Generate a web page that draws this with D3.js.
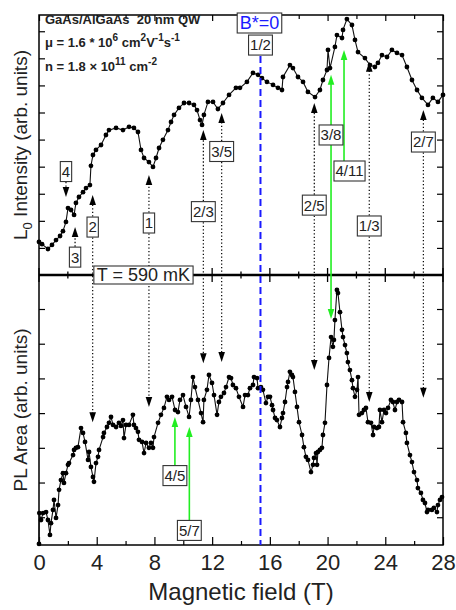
<!DOCTYPE html>
<html>
<head>
<meta charset="utf-8">
<script src="https://cdn.jsdelivr.net/npm/d3@7"></script>
<style>
body{margin:0;background:#fff;}
svg{display:block;font-family:"Liberation Sans",Arial,sans-serif;}
</style>
</head>
<body>
<div id="chart"></div>
<script>
// top panel: L0 intensity vs field
var fieldTop = [0,0.21,0.62,0.90,1.18,1.46,1.66,1.87,2.01,2.22,2.43,2.56,2.77,3.05,3.26,3.53,3.60,3.74,3.95,4.30,
  4.64,4.85,5.34,5.82,6.24,6.58,6.86,7.07,7.28,7.62,7.90,8.11,8.32,8.59,8.94,9.15,9.36,9.70,10.05,10.40,
  10.74,10.95,11.16,11.30,11.43,11.71,12.06,12.40,12.75,13.17,13.65,13.93,14.41,14.83,15.18,15.45,15.80,16.22,16.56,16.84,
  16.91,17.39,17.60,17.95,18.30,18.64,19.13,19.47,19.68,19.96,20.03,20.17,20.51,20.65,21.00,21.07,21.34,21.69,21.90,22.11,
  22.59,22.94,23.28,23.49,23.77,24.12,24.46,24.81,25.16,25.50,25.85,26.20,26.54,26.96,27.30,27.65,28.00];
var lumTop = [1.22,1.14,0.96,1.11,1.29,1.44,1.62,1.96,2.47,2.40,2.22,2.66,2.88,3.06,3.21,3.32,4.03,4.43,4.62,4.80,
  5.17,5.35,5.43,5.35,5.47,5.43,5.28,4.62,4.32,4.17,3.99,4.32,4.69,4.99,5.35,5.65,5.91,6.17,6.35,6.35,
  6.28,6.09,5.72,5.54,5.91,6.39,6.39,6.13,6.35,6.65,6.91,6.91,7.13,7.46,7.39,7.27,7.13,7.02,6.91,6.83,
  7.31,7.75,7.64,7.31,7.13,6.76,6.57,6.83,7.20,7.57,8.31,7.64,8.42,8.86,8.75,9.05,9.45,9.23,8.68,8.23,
  8.01,7.75,7.68,7.83,8.12,8.05,8.31,8.20,8.12,7.68,7.20,6.83,6.54,6.28,6.54,6.39,6.65];

// bottom panel: PL area vs field
var fieldBot = [0,0.02,0.14,0.28,0.49,0.62,0.76,0.83,0.97,1.04,1.18,1.32,1.39,1.52,1.66,1.73,1.87,2.01,2.08,2.36,
  2.43,2.56,2.70,2.91,3.05,3.19,3.40,3.47,3.60,3.74,3.81,3.95,4.09,4.16,4.44,4.50,4.71,4.85,4.99,5.13,
  5.34,5.54,5.68,5.82,5.89,6.03,6.24,6.51,6.58,6.72,6.86,6.93,7.14,7.28,7.42,7.62,7.76,7.90,7.97,8.25,
  8.45,8.66,8.87,9.01,9.22,9.43,9.63,9.77,9.98,10.19,10.40,10.53,10.67,10.81,11.02,11.23,11.37,11.43,11.64,11.78,
  11.99,12.13,12.34,12.47,12.61,12.82,12.96,13.17,13.31,13.44,13.65,13.86,14.14,14.28,14.48,14.62,14.83,14.90,15.11,15.18,
  15.38,15.52,15.73,15.87,16.01,16.15,16.22,16.36,16.49,16.70,16.84,16.91,17.05,17.19,17.26,17.39,17.53,17.60,17.74,17.88,
  18.02,18.23,18.36,18.50,18.64,18.85,18.99,19.06,19.20,19.27,19.33,19.47,19.61,19.68,19.82,19.96,20.10,20.24,20.37,20.44,
  20.51,20.65,20.72,20.86,21.00,21.07,21.21,21.34,21.41,21.55,21.69,21.76,21.90,22.04,22.11,22.18,22.38,22.52,22.66,22.80,
  23.01,23.15,23.22,23.42,23.56,23.63,23.77,23.91,24.05,24.19,24.39,24.53,24.67,24.81,24.95,25.16,25.23,25.43,25.50,25.71,
  25.85,25.99,26.20,26.26,26.47,26.61,26.75,26.89,26.96,27.23,27.37,27.58,27.65,27.79,27.93];
var plBot = [0.23,1.12,0.92,1.12,1.15,0.92,0.49,0.83,1.21,1.50,0.98,1.35,1.79,2.07,2.27,1.99,2.27,2.51,2.56,2.79,
  2.94,3.00,3.02,3.57,3.43,3.17,2.65,2.88,2.45,2.16,2.02,2.56,2.74,2.94,3.31,3.43,3.60,3.72,3.89,3.66,
  3.60,3.72,3.63,3.80,3.28,3.66,3.66,3.95,3.66,3.57,3.46,3.23,3.17,2.85,3.14,3.00,3.14,3.00,3.31,3.72,
  3.95,4.15,4.47,4.38,4.47,4.09,4.03,4.38,4.52,4.18,3.89,4.38,5.04,4.75,4.38,4.00,3.74,4.38,4.67,5.10,
  4.87,4.52,3.95,4.32,4.47,4.58,4.75,5.04,5.01,4.81,4.72,4.47,4.18,4.52,4.52,4.72,4.81,5.04,5.01,4.72,
  4.75,4.67,4.29,4.47,4.47,4.23,4.09,3.86,3.80,3.60,3.86,4.00,4.32,4.75,4.90,5.19,5.10,5.04,4.61,4.18,
  3.74,3.37,3.02,2.74,2.65,2.30,2.51,2.71,2.85,2.51,2.88,2.94,3.00,3.37,3.72,4.81,5.59,6.19,5.91,6.11,
  6.68,7.55,7.46,6.91,6.40,6.19,5.96,5.73,5.47,5.24,4.95,4.72,4.47,4.67,5.04,3.95,4.00,4.09,4.15,3.74,
  3.72,3.37,3.60,3.57,3.60,4.09,3.74,4.09,4.00,4.15,4.38,4.32,4.09,4.32,4.38,4.32,3.74,3.43,3.14,2.79,
  2.59,2.30,2.07,1.84,1.70,1.50,1.41,1.15,1.21,1.21,1.27,1.15,1.35,1.50,1.58];

var xTicks = [0,4,8,12,16,20,24,28];
var xMinor = [2,6,10,14,18,22,26];
var topTicks = [1,2,3,4,5,6,7,8,9];
var botTicks = [1,2,3,4,5,6,7];
var bStar = 15.35;

// filling factor marks: field, panel + value of the box, arrow tips [panel, value]
var marks = [
  {t:"4",   b:1.87,  p:"top", v:3.82, tips:[["top",2.88]]},
  {t:"3",   b:2.50,  p:"top", v:0.66, tips:[["top",1.77]]},
  {t:"2",   b:3.72,  p:"top", v:1.77, tips:[["top",2.95],["bot",3.74]]},
  {t:"1",   b:7.62,  p:"top", v:1.92, tips:[["top",3.69],["bot",4.18]]},
  {t:"2/3", b:11.39, p:"top", v:2.34, tips:[["top",5.35],["bot",5.44]]},
  {t:"3/5", b:12.66, p:"top", v:4.56, tips:[["top",5.98],["bot",5.47]]},
  {t:"2/5", b:19.08, p:"top", v:2.58, tips:[["top",6.35],["bot",5.24]]},
  {t:"1/3", b:22.89, p:"top", v:1.81, tips:[["top",7.87],["bot",4.32]]},
  {t:"2/7", b:26.64, p:"top", v:4.91, tips:[["top",6.09],["bot",4.44]]},
  {t:"3/8", b:20.24, p:"top", v:5.17, tips:[["top",7.39],["bot",6.71]], green:true},
  {t:"4/11",b:21.14, p:"top", v:3.84, tips:[["top",8.31]], green:true, dx:5.5},
  {t:"4/5", b:9.42,  p:"bot", v:2.20, tips:[["bot",3.89]], green:true},
  {t:"5/7", b:10.42, p:"bot", v:0.62, tips:[["bot",3.60]], green:true}
];

var svg = d3.select("#chart").append("svg").attr("width",456).attr("height",610);

var x = d3.scaleLinear().domain([0,28]).range([39,443]);
var yTop = d3.scaleLinear().domain([0,9.6]).range([275,15]);
var yBot = d3.scaleLinear().domain([0.2,7.98]).range([545,275]);
var yOf = {top:yTop, bot:yBot};

// axes
function axisStyle(g){
  g.select(".domain").remove();
  g.selectAll("line").attr("stroke","#000").attr("stroke-width",1.2);
}
svg.append("g").attr("transform","translate(0,545)")
   .call(d3.axisBottom(x).tickValues(xTicks).tickSizeInner(-8).tickSizeOuter(0).tickPadding(9))
   .call(axisStyle)
   .selectAll("text").attr("font-size",22).attr("fill","#222").attr("font-family","Liberation Sans, Arial, sans-serif");
svg.append("g").attr("transform","translate(0,545)")
   .call(d3.axisBottom(x).tickValues(xMinor).tickSize(-4).tickFormat(""))
   .call(axisStyle);
svg.append("g").attr("transform","translate(0,15)")
   .call(d3.axisTop(x).tickValues(xTicks).tickSize(-6).tickFormat(""))
   .call(axisStyle);
svg.append("g").attr("transform","translate(0,15)")
   .call(d3.axisTop(x).tickValues(xMinor).tickSize(-4).tickFormat(""))
   .call(axisStyle);
svg.append("g").attr("transform","translate(39,0)")
   .call(d3.axisLeft(yTop).tickValues(topTicks).tickSize(-6).tickFormat(""))
   .call(axisStyle);
svg.append("g").attr("transform","translate(443,0)")
   .call(d3.axisRight(yTop).tickValues(topTicks).tickSize(-6).tickFormat(""))
   .call(axisStyle);
svg.append("g").attr("transform","translate(39,0)")
   .call(d3.axisLeft(yBot).tickValues(botTicks).tickSize(-6).tickFormat(""))
   .call(axisStyle);
svg.append("g").attr("transform","translate(443,0)")
   .call(d3.axisRight(yBot).tickValues(botTicks).tickSize(-6).tickFormat(""))
   .call(axisStyle);

// frame
svg.append("rect").attr("x",39).attr("y",15).attr("width",404).attr("height",530)
   .attr("fill","none").attr("stroke","#000").attr("stroke-width",1.5);

// middle axis with ticks on both sides
svg.append("line").attr("x1",39).attr("x2",443).attr("y1",275).attr("y2",275)
   .attr("stroke","#000").attr("stroke-width",2.5);
svg.append("g").selectAll("line").data(xTicks.concat(xMinor)).enter().append("line")
   .attr("x1",function(d){ return x(d); }).attr("x2",function(d){ return x(d); })
   .attr("y1",function(d){ return d%4==0 ? 268 : 271.5; })
   .attr("y2",function(d){ return d%4==0 ? 282 : 278.5; })
   .attr("stroke","#000").attr("stroke-width",1.3);

// data curves
function drawCurve(xs, ys, yScale){
  var pts = d3.zip(xs, ys);
  var line = d3.line().x(function(d){ return x(d[0]); }).y(function(d){ return yScale(d[1]); });
  svg.append("path").datum(pts).attr("d",line)
     .attr("fill","none").attr("stroke","#111").attr("stroke-width",1.1);
  svg.append("g").selectAll("circle").data(pts).enter().append("circle")
     .attr("cx",function(d){ return x(d[0]); })
     .attr("cy",function(d){ return yScale(d[1]); })
     .attr("r",2.4).attr("fill","#000");
}
drawCurve(fieldTop, lumTop, yTop);
drawCurve(fieldBot, plBot, yBot);

// B*=0 dashed line
svg.append("line").attr("x1",x(bStar)).attr("x2",x(bStar)).attr("y1",yTop(8.49)).attr("y2",545)
   .attr("stroke","#1a1aff").attr("stroke-width",2).attr("stroke-dasharray","7,4");

// arrows
function arrow(px, y0, y1, color, dotted){
  var dir = y1 > y0 ? 1 : -1;
  svg.append("line").attr("x1",px).attr("x2",px).attr("y1",y0).attr("y2",y1 - dir*8)
     .attr("stroke",color).attr("stroke-width",dotted ? 1.2 : 1.6)
     .attr("stroke-dasharray",dotted ? "1.3,2.2" : null);
  svg.append("path")
     .attr("d","M"+(px-3.3)+","+(y1-dir*10)+"L"+(px+3.3)+","+(y1-dir*10)+"L"+px+","+y1+"Z")
     .attr("fill",color);
}
marks.forEach(function(m){
  var px = x(m.b), by = yOf[m.p](m.v);
  m.tips.forEach(function(t){
    arrow(px, by, yOf[t[0]](t[1]), m.green ? "#22ee22" : "#000", !m.green);
  });
});

// boxed labels
function box(cx, cy, label, size, color, pad, h){
  var g = svg.append("g");
  var r = g.append("rect");
  var tx = g.append("text").attr("x",cx).attr("y",cy + size*0.36)
     .attr("text-anchor","middle").attr("font-size",size).attr("fill",color).text(label);
  var w = tx.node().getComputedTextLength() + 2*pad;
  r.attr("x",cx - w/2).attr("y",cy - h/2).attr("width",w).attr("height",h)
   .attr("fill","#fff").attr("stroke","#333").attr("stroke-width",1.1);
}
marks.forEach(function(m){
  box(x(m.b) + (m.dx || 0), yOf[m.p](m.v), m.t, 15, "#222", 1.5, 20);
});
box(x(bStar), yTop(8.49), "1/2", 15, "#222", 1.5, 20);
box(x(bStar) - 1, 23, "B*=0", 18, "#1a1aff", 2.5, 20);
box(x(7.24), 275, "T = 590 mK", 18, "#222", 3, 18);

// sample info
function supLine(yy, parts){
  var t = svg.append("text").attr("x",45).attr("y",yy)
     .attr("font-size",13).attr("font-weight","bold").attr("fill","#222");
  var up = false;
  parts.forEach(function(p){
    var s = t.append("tspan").text(p[0]);
    if (p[1] && !up){ s.attr("dy",-6).attr("font-size",10); up = true; }
    else if (p[1]) { s.attr("font-size",10); }
    else if (up){ s.attr("dy",6); up = false; }
  });
}
supLine(24, [["GaAs/AlGaAs\u00a0\u00a020 nm QW"]]);
supLine(47, [["\u03bc = 1.6 * 10"],["6",1],[" cm"],["2",1],["V"],["-1",1],["s"],["-1",1]]);
supLine(71, [["n = 1.8 \u00d7 10"],["11",1],[" cm"],["-2",1]]);

// axis titles
var yt = svg.append("text").attr("transform","translate(27,145) rotate(-90)")
   .attr("text-anchor","middle").attr("font-size",19).attr("fill","#222");
yt.append("tspan").text("L");
yt.append("tspan").attr("dy",5).attr("font-size",13).text("0");
yt.append("tspan").attr("dy",-5).text(" Intensity (arb. units)");
svg.append("text").attr("transform","translate(27,410) rotate(-90)")
   .attr("text-anchor","middle").attr("font-size",19).attr("fill","#222")
   .text("PL Area (arb. units)");
svg.append("text").attr("x",241).attr("y",600).attr("text-anchor","middle")
   .attr("font-size",24).attr("fill","#222").text("Magnetic field (T)");
</script>
</body>
</html>
